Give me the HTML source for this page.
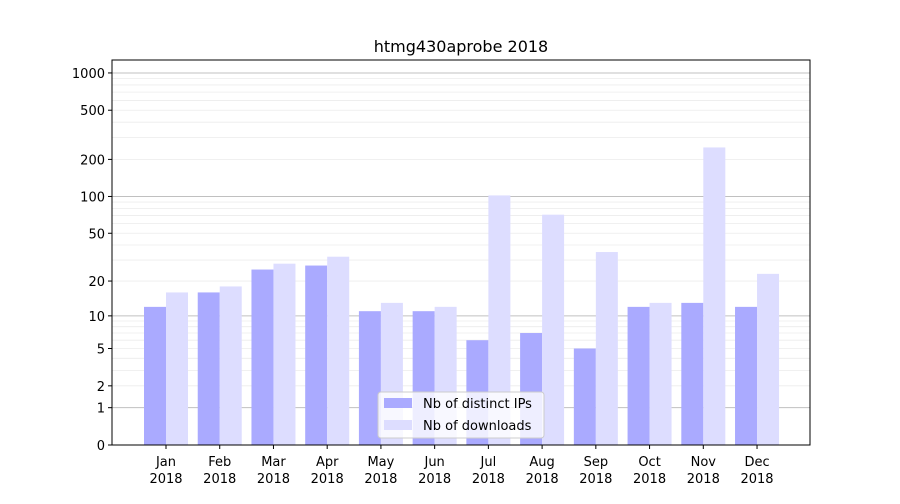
<!DOCTYPE html>
<html><head><meta charset="utf-8"><style>
body{margin:0;background:#fff;font-family:"DejaVu Sans","Liberation Sans",sans-serif}
svg text{font-family:"DejaVu Sans","Liberation Sans",sans-serif}
</style></head><body>
<svg id="chart" width="900" height="500" xmlns="http://www.w3.org/2000/svg">
<rect width="900" height="500" fill="#fff"/>
<g id="grid"></g><g id="bars"></g><g id="axes"></g>
<text x="461" y="52" font-size="16" text-anchor="middle">htmg430aprobe 2018</text>
</svg>
<script>
const months = ["Jan","Feb","Mar","Apr","May","Jun","Jul","Aug","Sep","Oct","Nov","Dec"];
const ipValues = [12,16,25,27,11,11,6,7,5,12,13,12];
const downloadValues = [16,18,28,32,13,12,102,71,35,13,250,23];
const yTicks = [0,1,2,5,10,20,50,100,200,500,1000];
const NS="http://www.w3.org/2000/svg";
const L=112,R=810,T=60,B=445;
function y(v){return B-124*Math.log10(1+v);}
function x(i){return 166+i*53.73;}
function mk(tag,attrs,parent){const e=document.createElementNS(NS,tag);for(const k in attrs)e.setAttribute(k,attrs[k]);parent.appendChild(e);return e;}
const grid=document.getElementById('grid'),bars=document.getElementById('bars'),axes=document.getElementById('axes');
for(let d=1;d<=1000;d*=10){for(let m=1;m<10;m++){const v=m*d;if(v>1273)break;const yy=y(v);
const g=mk('line',{x1:L,x2:R,y1:yy,y2:yy,stroke:m===1?'#c0c0c0':'#ececec','stroke-width':m===1?1:0.8},grid);
}}
months.forEach((mo,i)=>{
const b1=mk('rect',{x:x(i)-22,y:y(ipValues[i]),width:22,height:B-y(ipValues[i]),fill:'#aaaaff'},bars);


const b2=mk('rect',{x:x(i),y:y(downloadValues[i]),width:22,height:B-y(downloadValues[i]),fill:'#ddddff'},bars);


mk('line',{x1:x(i),x2:x(i),y1:B,y2:B+4,stroke:'#000'},axes);
const t=mk('text',{x:x(i),y:B+21,'font-size':13,'text-anchor':'middle'},axes);t.textContent=mo;


const t2=mk('text',{x:x(i),y:B+38,'font-size':13,'text-anchor':'middle'},axes);t2.textContent='2018';


});
yTicks.forEach(v=>{const yy=y(v);mk('line',{x1:L-4,x2:L,y1:yy,y2:yy,stroke:'#000'},axes);
const t=mk('text',{x:L-7,y:yy+5,'font-size':13,'text-anchor':'end'},axes);t.textContent=v;

});
const fr=mk('rect',{x:L,y:T,width:R-L,height:B-T,fill:'none',stroke:'#000','stroke-width':1},axes);

const lg=mk('g',{},axes);


mk('rect',{x:378,y:392,width:166,height:46,rx:3,fill:'#fff','fill-opacity':0.8,stroke:'#ccc'},lg);
mk('rect',{x:384,y:398,width:28,height:10,fill:'#aaaaff'},lg);
mk('rect',{x:384,y:420,width:28,height:10,fill:'#ddddff'},lg);
const l1=mk('text',{x:423,y:408,'font-size':13},lg);l1.textContent='Nb of distinct IPs';


const l2=mk('text',{x:423,y:430,'font-size':13},lg);l2.textContent='Nb of downloads';


</script>
</body></html>
